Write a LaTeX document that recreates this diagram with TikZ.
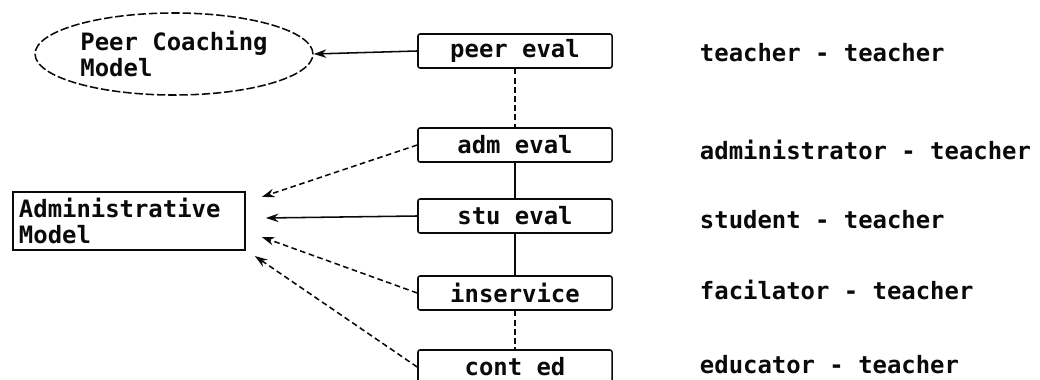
\documentclass[tikz,border=0pt]{standalone}
\usepackage{fontspec}
\setmonofont{DejaVu Sans Mono}
\usetikzlibrary{
    shapes.geometric,
    arrows.meta,
    positioning,
    calc
}
\definecolor{inkblack}{RGB}{10, 10, 10}

\begin{document}
\begin{tikzpicture}[x=0.025cm, y=-0.025cm,
        every node/.style={font=\fontsize{17}{19}\selectfont\ttfamily\bfseries, text=inkblack},
        evalbox/.style={draw=inkblack, line width=1.1pt, rounded corners=1.5pt, minimum width=4.85cm, minimum height=0.85cm, inner sep=2pt},
        arr/.style={-{Stealth[length=9pt, width=6pt]}, line width=1.1pt, inkblack},
        dashline/.style={line width=1.1pt, inkblack, dash pattern=on 4pt off 2.5pt}
    ]
        % Picture frame
        \useasboundingbox (0,0) rectangle (1040,380);

        % Models on the left
        \node[ellipse, draw=inkblack, line width=1.1pt, dash pattern=on 6pt off 2pt, minimum width=6.9cm, minimum height=2.05cm, align=left] (coach) at (174,54) {Peer Coaching\\Model};
        \node[draw=inkblack, line width=1.1pt, text width=5.5cm, inner sep=0.15cm, align=left] (admin) at (129,221) {Administrative\\Model};

        % Evaluation boxes
        \node[evalbox] (peer) at (515,51) {peer eval};
        \node[evalbox] (adm) at (515,145) {adm eval};
        \node[evalbox] (stu) at (515,216) {stu eval};
        \node[evalbox] (ins) at (515,293) {inservice};
        \node[evalbox] (cont) at (515,367) {cont ed};

        % Relations on the right
        \foreach \name/\y/\txt in {rtt/53/teacher - teacher, rat/150/administrator - teacher, rst/220/student - teacher, rft/290/facilator - teacher, ret/365/educator - teacher} {
            \node[anchor=west] (\name) at (695,\y) {\txt};
        }

        % Links between the boxes
        \draw[dashline] (peer) -- (adm);
        \draw[line width=1.1pt, inkblack] (adm) -- (stu);
        \draw[line width=1.1pt, inkblack] (stu) -- (ins);
        \draw[dashline] (ins) -- (cont);

        % Arrows to the models
        \draw[arr] (peer.west) -- (coach.east);
        \draw[arr, dashline] (adm.west) -- ([shift={(16,-24)}]admin.east);
        \draw[arr] (stu.west) -- ([shift={(20,-3)}]admin.east);
        \draw[arr, dashline] (ins.west) -- ([shift={(16,16)}]admin.east);
        \draw[arr, dashline] (cont.west) -- ([shift={(9,35)}]admin.east);
    \end{tikzpicture}
\end{document}
